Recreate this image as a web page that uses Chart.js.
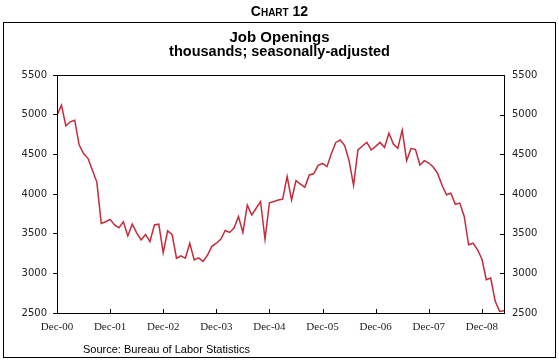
<!DOCTYPE html>
<html>
<head>
<meta charset="utf-8">
<script src="https://cdn.jsdelivr.net/npm/chart.js@4.4.1/dist/chart.umd.min.js"></script>
<style>
  html, body { margin: 0; padding: 0; background: #fff; }
  #wrap { position: relative; width: 559px; height: 364px; overflow: hidden; }
  #chart { position: absolute; left: 0; top: 0; }
  .txt { position: absolute; left: 0; width: 559px; text-align: center; font-family: "Liberation Sans", Arial, sans-serif; font-weight: bold; color: #000; white-space: nowrap; }
  #frame { position: absolute; left: 3px; top: 22px; width: 551px; height: 334px; border: 1px solid #000; }
</style>
</head>
<body>
<div id="wrap">
  <div id="frame"></div>
  <canvas id="chart" width="559" height="364"></canvas>
  <div class="txt" style="top:3px; font-size:14px; font-variant:small-caps;">Chart 12</div>
  <div class="txt" style="top:28px; font-size:15px;">Job Openings</div>
  <div class="txt" style="top:43px; font-size:14.5px;">thousands; seasonally-adjusted</div>
  <div class="txt" style="top:343px; left:83px; width:auto; text-align:left; font-weight:normal; font-size:11px;">Source: Bureau of Labor Statistics</div>
</div>
<script>
// Job openings, monthly, thousands (Dec-00 .. May-09)
const jobOpenings = [
  4990, 5120, 4860, 4910, 4930, 4620, 4510, 4450, 4300, 4150, 3630, 3650, // Dec-00
  3680, 3610, 3575, 3650, 3470, 3620, 3510, 3420, 3490, 3400, 3610, 3620, // Dec-01
  3260, 3535, 3490, 3190, 3220, 3190, 3380, 3170, 3195, 3150, 3230, 3340, // Dec-02
  3380, 3430, 3540, 3515, 3570, 3715, 3515, 3860, 3735, 3820, 3905, 3430, // Dec-03
  3890, 3905, 3925, 3935, 4220, 3925, 4170, 4125, 4085, 4240, 4255, 4360, // Dec-04
  4385, 4345, 4510, 4650, 4680, 4610, 4420, 4110, 4555, 4605, 4650, 4555, // Dec-05
  4600, 4650, 4585, 4765, 4630, 4575, 4805, 4420, 4575, 4560, 4365, 4420, // Dec-06
  4390, 4340, 4260, 4110, 3990, 4010, 3870, 3885, 3720, 3360, 3380, 3300, // Dec-07
  3180, 2920, 2940, 2650, 2520, 2530                                      // Dec-08
];

// x tick positions (month index) and their labels
const xTickVals = [0, 12, 24, 36, 48, 60, 72, 84, 96];
const xTickLabels = ['Dec-00', 'Dec-01', 'Dec-02', 'Dec-03', 'Dec-04', 'Dec-05', 'Dec-06', 'Dec-07', 'Dec-08'];

const yMin = 2500;
const yMax = 5500;
const yStep = 500;

const lineColor = '#c42b3a';

// frame around plot + inward ticks on bottom and right axes
const framePlugin = {
    id: 'frame',
    afterDraw(chart) {
        const ctx = chart.ctx;
        const a = chart.chartArea;
        ctx.save();
        ctx.strokeStyle = '#000';
        ctx.lineWidth = 1;
        ctx.strokeRect(Math.round(a.left) + 0.5, Math.round(a.top) + 0.5,
                       Math.round(a.right - a.left), Math.round(a.bottom - a.top));
        ctx.beginPath();
        const xs = chart.scales.x;
        for (const t of xs.ticks) {
            const px = Math.round(xs.getPixelForValue(t.value)) + 0.5;
            ctx.moveTo(px, a.bottom);
            ctx.lineTo(px, a.bottom - 4);
        }
        const ys = chart.scales.y2;
        for (const t of ys.ticks) {
            const py = Math.round(ys.getPixelForValue(t.value)) + 0.5;
            ctx.moveTo(a.right, py);
            ctx.lineTo(a.right - 4, py);
        }
        ctx.stroke();
        ctx.restore();
    }
};

const yTickFont = { family: 'DejaVu Sans', size: 10 };
const plainNum = v => String(v);

new Chart(document.getElementById('chart'), {
    type: 'line',
    data: {
        datasets: [{
            label: 'Job Openings',
            data: jobOpenings.map((v, i) => ({ x: i, y: v })),
            borderColor: lineColor,
            borderWidth: 1.5,
            pointRadius: 0,
            fill: false,
            tension: 0
        }]
    },
    options: {
        responsive: false,
        animation: false,
        layout: { padding: { top: 75, bottom: 31, left: 0, right: 0 } },
        plugins: {
            legend: { display: false },
            tooltip: { enabled: false }
        },
        scales: {
            x: {
                type: 'linear',
                min: 0,
                max: jobOpenings.length - 1,
                afterBuildTicks: s => { s.ticks = xTickVals.map(v => ({ value: v })); },
                afterFit: s => { s.height = 20; },
                grid: { display: false },
                border: { display: false },
                ticks: {
                    autoSkip: false,
                    maxRotation: 0,
                    padding: 0,
                    color: '#222',
                    font: { family: 'Liberation Serif', size: 11 },
                    callback: (v) => xTickLabels[xTickVals.indexOf(v)]
                }
            },
            y: {
                position: 'left',
                min: yMin,
                max: yMax,
                afterFit: s => { s.width = 57; },
                grid: { drawOnChartArea: false, drawTicks: true, tickLength: 4, color: '#000' },
                border: { display: false },
                ticks: { stepSize: yStep, padding: 6, color: '#222', font: yTickFont, callback: plainNum }
            },
            y2: {
                position: 'right',
                min: yMin,
                max: yMax,
                afterFit: s => { s.width = 55; },
                grid: { display: false },
                border: { display: false },
                ticks: { stepSize: yStep, padding: 0, color: '#222', font: yTickFont, callback: plainNum }
            }
        }
    },
    plugins: [framePlugin]
});
</script>
</body>
</html>
